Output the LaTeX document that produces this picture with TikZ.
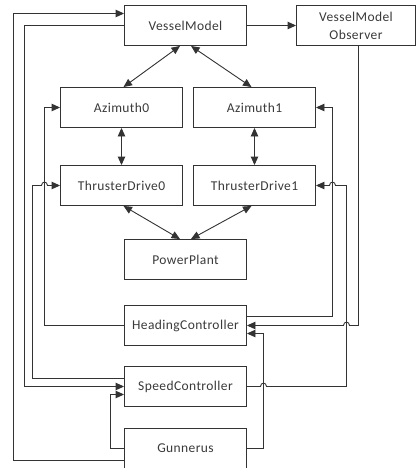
\documentclass[tikz,border=0pt]{standalone}
\usepackage{fontspec}
\setmainfont{Carlito}[LetterSpace=3]
\usetikzlibrary{arrows.meta}
\definecolor{ink}{HTML}{333333}
\definecolor{label}{HTML}{3A3A3A}
\begin{document}
\begin{tikzpicture}[x=1pt,y=-1pt,
  block/.style={draw=ink,line width=0.9pt,fill=white,minimum width=122pt,minimum height=40pt,
    inner sep=0pt,text=label,font=\fontsize{13.5}{18}\selectfont,align=center},
  link/.style={draw=ink,line width=0.9pt},
  arr/.style={link,-{Triangle[length=8.5pt,width=7.5pt]}},
  biarr/.style={link,{Triangle[length=8.5pt,width=7.5pt]}-{Triangle[length=8.5pt,width=7.5pt]}}]
\useasboundingbox (0,0) rectangle (416,468);

% blocks
\node[block] (vm)  at (185.5,25.5) {VesselModel};
\node[block,minimum width=119pt] (obs) at (356,25.5) {VesselModel\\Observer};
\node[block] (az0) at (121.5,107.5) {Azimuth0};
\node[block] (az1) at (254.5,107.5) {Azimuth1};
\node[block] (td0) at (121.5,185.5) {ThrusterDrive0};
\node[block] (td1) at (254.5,185.5) {ThrusterDrive1};
\node[block] (pp)  at (185.5,259.5) {PowerPlant};
\node[block] (hc)  at (185.5,325.5) {HeadingController};
\node[block] (sc)  at (185.5,386.5) {SpeedController};
\node[block] (gu)  at (185.5,448.5) {Gunnerus};

% couplings between models
\draw[arr] (vm.east) -- (obs.west);
\draw[biarr] ([xshift=-5.5pt]vm.south) -- ([xshift=2pt]az0.north);
\draw[biarr] ([xshift=5.5pt]vm.south) -- ([xshift=-3pt]az1.north);
\draw[biarr] (az0.south) -- (td0.north);
\draw[biarr] (az1.south) -- (td1.north);
\draw[biarr] ([xshift=2pt]td0.south) -- ([xshift=-5.5pt]pp.north);
\draw[biarr] ([xshift=-3pt]td1.south) -- ([xshift=5.5pt]pp.north);

% feedback loops, left side
\draw[arr] ([yshift=-12pt]gu.west) -| (13.5,13.5) -- ([yshift=12pt]vm.west);
\draw[arr] (vm.west) -| (24.5,386.5) -- (sc.west);
\draw[arr] ([yshift=8pt]sc.west) -| (32.5,185.5) -- (41.5,185.5)
  .. controls (41.5,181) and (47.5,181) .. (47.5,185.5) -- (td0.west);
\draw[arr] (hc.west) -| (44.5,107.5) -- (az0.west);
\draw[arr] (gu.west) -| (110.5,394.5) -- ([yshift=-8pt]sc.west);

% feedback loops, right side
\draw[arr] ([yshift=9pt]hc.east) -| (332.5,107.5) -- (az1.east);
\draw[arr] (sc.east) -- (260.5,386.5) .. controls (260.5,382) and (266.5,382) .. (266.5,386.5)
  -| (346.5,185.5) -- (335.5,185.5) .. controls (335.5,181) and (329.5,181) .. (329.5,185.5) -- (td1.east);
\draw[arr] ([xshift=2.5pt]obs.south) |- (349.5,325.5)
  .. controls (349.5,321) and (343.5,321) .. (343.5,325.5) -- (hc.east);
\draw[arr] (gu.east) -| (263.5,333.5) -- ([yshift=-8pt]hc.east);
\end{tikzpicture}
\end{document}
